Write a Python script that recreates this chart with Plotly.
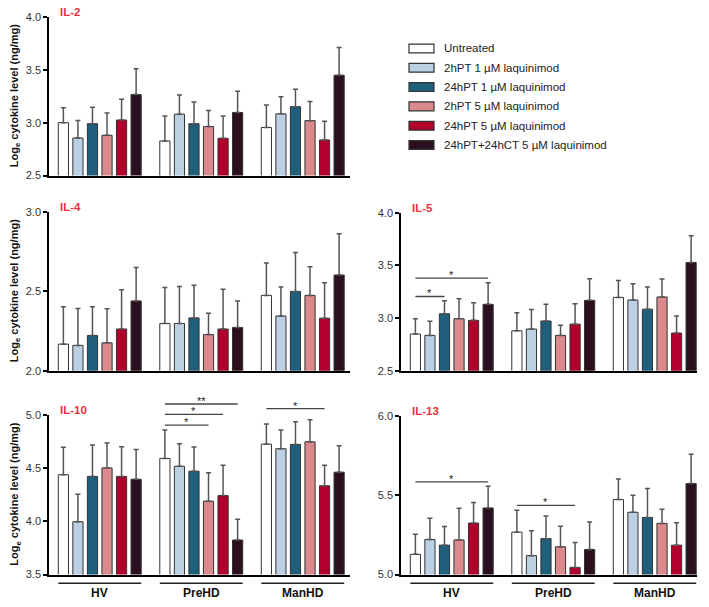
import plotly.graph_objects as go

# ---------------- data ----------------
GROUPS = ["HV", "PreHD", "ManHD"]
TREATMENTS = [
    "Untreated",
    "2hPT 1 µM laquinimod",
    "24hPT 1 µM laquinimod",
    "2hPT 5 µM laquinimod",
    "24hPT 5 µM laquinimod",
    "24hPT+24hCT 5 µM laquinimod",
]
COLORS = ["#ffffff", "#bcd0e4", "#1f5f7c", "#da8a8d", "#b0002b", "#2b0f1f"]

# means per group (rows: HV, PreHD, ManHD; columns: treatments)
il2_mean = [[3.00, 2.855, 2.99, 2.88, 3.025, 3.265],
            [2.827, 3.08, 2.99, 2.963, 2.852, 3.096],
            [2.954, 3.083, 3.151, 3.019, 2.836, 3.448]]
il2_err = [[0.14, 0.165, 0.155, 0.21, 0.195, 0.245],
           [0.235, 0.182, 0.204, 0.151, 0.21, 0.20],
           [0.213, 0.161, 0.164, 0.181, 0.176, 0.262]]

il4_mean = [[2.167, 2.159, 2.221, 2.175, 2.262, 2.439],
            [2.297, 2.297, 2.332, 2.227, 2.262, 2.272],
            [2.474, 2.344, 2.499, 2.474, 2.330, 2.602]]
il4_err = [[0.235, 0.233, 0.181, 0.215, 0.247, 0.21],
           [0.227, 0.233, 0.206, 0.134, 0.251, 0.167],
           [0.204, 0.182, 0.245, 0.18, 0.223, 0.26]]

il5_mean = [[2.848, 2.835, 3.04, 2.994, 2.978, 3.13],
            [2.879, 2.895, 2.972, 2.835, 2.942, 3.168],
            [3.196, 3.171, 3.084, 3.200, 2.857, 3.528]]
il5_err = [[0.146, 0.134, 0.125, 0.189, 0.168, 0.205],
           [0.172, 0.186, 0.158, 0.096, 0.194, 0.205],
           [0.161, 0.156, 0.211, 0.17, 0.162, 0.255]]

il10_mean = [[4.437, 3.996, 4.421, 4.501, 4.421, 4.394],
             [4.59, 4.516, 4.47, 4.189, 4.241, 3.824],
             [4.724, 4.681, 4.721, 4.746, 4.333, 4.461]]
il10_err = [[0.257, 0.257, 0.294, 0.233, 0.279, 0.281],
            [0.266, 0.211, 0.227, 0.266, 0.284, 0.196],
            [0.19, 0.175, 0.214, 0.208, 0.192, 0.248]]

il13_mean = [[5.127, 5.22, 5.185, 5.218, 5.324, 5.419],
             [5.267, 5.119, 5.226, 5.175, 5.045, 5.158],
             [5.472, 5.392, 5.359, 5.322, 5.185, 5.573]]
il13_err = [[0.126, 0.135, 0.117, 0.199, 0.13, 0.137],
            [0.138, 0.156, 0.142, 0.129, 0.156, 0.173],
            [0.13, 0.107, 0.183, 0.089, 0.141, 0.185]]

# significance: (group index, from treatment, to treatment, bracket level, label)
il5_sig = [(0, 0, 2, 3.205, "*"), (0, 0, 5, 3.379, "*")]
il10_sig = [(1, 0, 3, 4.902, "*"), (1, 0, 4, 5.003, "*"), (1, 0, 5, 5.101, "**"),
            (2, 0, 4, 5.058, "*")]
il13_sig = [(0, 0, 5, 5.583, "*"), (1, 0, 4, 5.435, "*")]

# ---------------- layout helpers ----------------
W, H = 709, 607
FONT = "Arial, Liberation Sans, sans-serif"
BARGAP = 0.14
BARGROUPGAP = 0.3
SLOT = (1 - BARGAP) / len(TREATMENTS)
BARW = SLOT * (1 - BARGROUPGAP)
UNIT = 101.5  # px per group


def fx(px):
    return px / W


def fy(px):
    return 1 - px / H


panels = [
    dict(title="IL-2", mean=il2_mean, err=il2_err, xpx=(49, 350), ypx=(11, 173),
         yr=(2.5, 4.0), ticks=[2.5, 3.0, 3.5, 4.0], sig=[], ylab=True, bottom=False),
    dict(title="IL-4", mean=il4_mean, err=il4_err, xpx=(49, 350), ypx=(210, 372),
         yr=(2.0, 3.0), ticks=[2.0, 2.5, 3.0], sig=[], ylab=True, bottom=False),
    dict(title="IL-5", mean=il5_mean, err=il5_err, xpx=(401, 697), ypx=(211, 372),
         yr=(2.5, 4.0), ticks=[2.5, 3.0, 3.5, 4.0], sig=il5_sig, ylab=False, bottom=False),
    dict(title="IL-10", mean=il10_mean, err=il10_err, xpx=(49, 350), ypx=(417, 580),
         yr=(3.5, 5.0), ticks=[3.5, 4.0, 4.5, 5.0], sig=il10_sig, ylab=True, bottom=True),
    dict(title="IL-13", mean=il13_mean, err=il13_err, xpx=(401, 697), ypx=(418, 580),
         yr=(5.0, 6.0), ticks=[5.0, 5.5, 6.0], sig=il13_sig, ylab=False, bottom=True),
]

fig = go.Figure()
layout = dict(
    width=W, height=H, margin=dict(l=0, r=0, t=0, b=0),
    paper_bgcolor="white", plot_bgcolor="rgba(0,0,0,0)",
    barmode="group", bargap=BARGAP, bargroupgap=BARGROUPGAP,
    showlegend=False, font=dict(family=FONT, size=11, color="#333333"),
)
annotations = []
shapes = []

xg = list(range(len(GROUPS)))


def bar_center(g, t):
    return g + (t - (len(TREATMENTS) - 1) / 2) * SLOT


n_axes = len(panels)
overlay_id = n_axes
for k, p in enumerate(panels, start=1):
    xs = "" if k == 1 else str(k)
    x0px, x1px = p["xpx"]
    ytop, ybot = p["ypx"]
    xrange = [-0.5, -0.5 + (x1px - x0px) / UNIT]
    layout["xaxis" + xs] = dict(
        domain=[fx(x0px), fx(x1px)], range=xrange, anchor="y" + xs,
        showline=True, linecolor="black", linewidth=2, showticklabels=False,
        ticks="", showgrid=False, zeroline=False, fixedrange=True,
    )
    layout["yaxis" + xs] = dict(
        domain=[fy(ybot), fy(ytop)], range=list(p["yr"]), anchor="x" + xs,
        showline=True, linecolor="black", linewidth=1.5, tickvals=p["ticks"],
        ticktext=[f"{v:.1f}" for v in p["ticks"]], ticks="outside", ticklen=4,
        tickcolor="black", tickwidth=1.5, showgrid=False, zeroline=False,
        tickfont=dict(size=11, color="#333333", family=FONT), fixedrange=True,
    )
    for t, name in enumerate(TREATMENTS):
        fig.add_trace(go.Bar(
            x=xg, y=[p["mean"][g][t] for g in xg], name=name,
            xaxis="x" + xs, yaxis="y" + xs,
            marker=dict(color=COLORS[t], line=dict(color="#333333", width=1)),
            error_y=dict(type="data", symmetric=False,
                         array=[p["err"][g][t] for g in xg],
                         arrayminus=[0] * len(xg),
                         color="#555555", thickness=1.5, width=2.5),
            showlegend=False,
        ))
    # panel title
    annotations.append(dict(
        text=f"<b>{p['title']}</b>", xref=f"x{xs} domain", yref=f"y{xs} domain",
        x=0.03, y=1.0 + 5 / (ybot - ytop), xanchor="left", yanchor="middle",
        showarrow=False, font=dict(size=11.5, color="#e8323c", family=FONT),
    ))
    # y label
    if p["ylab"]:
        annotations.append(dict(
            text="<b>Log<sub>e</sub> cytokine level (ng/mg)</b>", xref="paper",
            yref=f"y{xs} domain", x=fx(15), y=0.5, textangle=-90,
            xanchor="center", yanchor="middle", showarrow=False,
            font=dict(size=11, color="#111111", family=FONT),
        ))
    # group labels under bottom panels
    if p["bottom"]:
        half = bar_center(0, len(TREATMENTS) - 1) + BARW / 2
        for g, gname in enumerate(GROUPS):
            shapes.append(dict(type="line", xref="x" + xs, yref="paper",
                               x0=g - half, x1=g + half, y0=fy(589), y1=fy(589),
                               line=dict(color="#222222", width=1.5)))
            annotations.append(dict(
                text=f"<b>{gname}</b>", xref="x" + xs, yref="paper",
                x=g, y=fy(598.5), xanchor="center", yanchor="middle",
                showarrow=False, borderpad=0,
                font=dict(size=12, color="#111111", family=FONT),
            ))
    # significance brackets on an invisible overlay pair with the same scale
    if p["sig"]:
        overlay_id += 1
        os_ = str(overlay_id)
        y0v, y1v = p["yr"]
        ext_top = y1v + 0.2 * (y1v - y0v)
        dom0 = fy(ybot)
        dom1 = fy(ytop)
        dom1_ext = dom0 + (dom1 - dom0) * (ext_top - y0v) / (y1v - y0v)
        layout["xaxis" + os_] = dict(domain=[fx(x0px), fx(x1px)], range=xrange,
                                     anchor="y" + os_, visible=False, fixedrange=True)
        layout["yaxis" + os_] = dict(domain=[dom0, dom1_ext], range=[y0v, ext_top],
                                     anchor="x" + os_, visible=False, fixedrange=True)
        lx, ly = [], []
        for g, a, b, lvl, lab in p["sig"]:
            xa, xb = bar_center(g, a), bar_center(g, b)
            lx += [xa, xb, None]
            ly += [lvl, lvl, None]
            annotations.append(dict(
                text=lab, xref="x" + os_, yref="y" + os_, x=(xa + xb) / 2, y=lvl,
                xanchor="center", yanchor="middle", yshift=3, showarrow=False,
                font=dict(size=11, color="#222222", family=FONT),
            ))
        fig.add_trace(go.Scatter(x=lx, y=ly, mode="lines", xaxis="x" + os_,
                                 yaxis="y" + os_, line=dict(color="#444444", width=1.3),
                                 hoverinfo="skip", showlegend=False))

# legend drawn as boxes + labels
LEG_X0, LEG_X1 = 409, 434
LEG_Y0, LEG_DY = 43.3, 19.7
for t, name in enumerate(TREATMENTS):
    cy = LEG_Y0 + t * LEG_DY
    shapes.append(dict(type="rect", xref="paper", yref="paper",
                       x0=fx(LEG_X0), x1=fx(LEG_X1), y0=fy(cy + 4.5), y1=fy(cy - 4.5),
                       fillcolor=COLORS[t], line=dict(color="#333333", width=1.2)))
    annotations.append(dict(
        text=name, xref="paper", yref="paper", x=fx(442), y=fy(cy),
        xanchor="left", yanchor="middle", showarrow=False,
        font=dict(size=11.5, color="#222222", family=FONT),
    ))

layout["annotations"] = annotations
layout["shapes"] = shapes
fig.update_layout(**layout)
fig.write_html(
    "out.html",
    config={"displayModeBar": False},
    post_script="document.body.style.margin='0';document.body.style.overflow='hidden';",
)
